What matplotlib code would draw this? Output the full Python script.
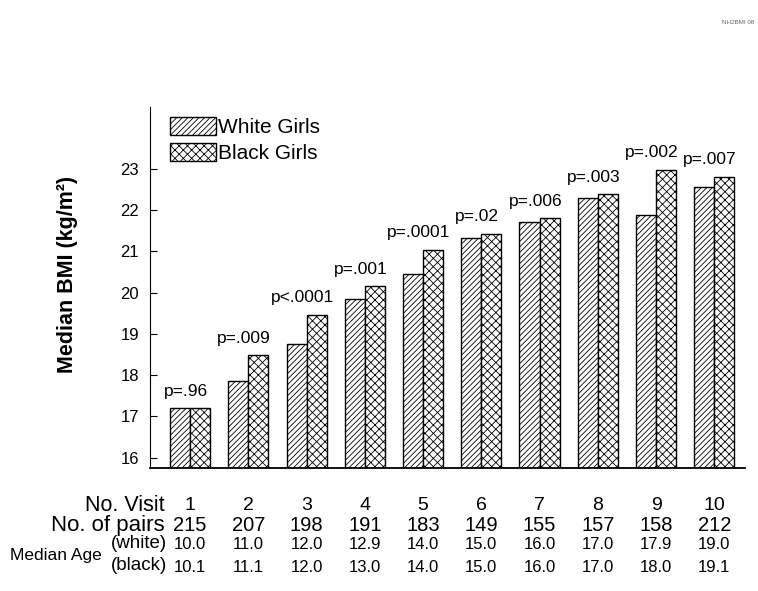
import numpy as np
import matplotlib
matplotlib.use("Agg")
import matplotlib.pyplot as plt
from matplotlib.patches import Patch

plt.rcParams['font.family'] = ['Liberation Sans', 'DejaVu Sans']
plt.rcParams['hatch.linewidth'] = 0.6

# --- data ---
visits = [1, 2, 3, 4, 5, 6, 7, 8, 9, 10]
bmi_white = [17.2, 17.87, 18.76, 19.85, 20.46, 21.33, 21.71, 22.29, 21.89, 22.57]
bmi_black = [17.2, 18.48, 19.47, 20.15, 21.04, 21.43, 21.80, 22.38, 22.98, 22.80]
p_values = ["p=.96", "p=.009", "p<.0001", "p=.001", "p=.0001",
            "p=.02", "p=.006", "p=.003", "p=.002", "p=.007"]
n_pairs = [215, 207, 198, 191, 183, 149, 155, 157, 158, 212]
age_white = ["10.0", "11.0", "12.0", "12.9", "14.0", "15.0", "16.0", "17.0", "17.9", "19.0"]
age_black = ["10.1", "11.1", "12.0", "13.0", "14.0", "15.0", "16.0", "17.0", "18.0", "19.1"]
yticks = [16, 17, 18, 19, 20, 21, 22, 23]

fig = plt.figure(figsize=(7.58, 5.91), dpi=100)
ax = fig.add_axes([0.198, 0.208, 0.785, 0.611])

x = np.array(visits)
w = 0.344
ax.bar(x - w / 2, bmi_white, w, bottom=0, color="white", edgecolor="black",
       linewidth=1, hatch="//////")
ax.bar(x + w / 2, bmi_black, w, bottom=0, color="white", edgecolor="black",
       linewidth=1, hatch="xxxx")

ax.set_xlim(0.313, 10.53)
ax.set_ylim(15.75, 24.5)
ax.set_yticks(yticks)
ax.set_xticks([])
ax.tick_params(axis="y", direction="in", length=5, labelsize=12, pad=8)
for s in ["top", "right"]:
    ax.spines[s].set_visible(False)
ax.spines["bottom"].set_linewidth(1.3)

ax.set_ylabel("Median BMI (kg/m²)", fontsize=15.5, fontweight="bold")
ax.yaxis.set_label_coords(-0.121, 0.537)

# p-value labels above each pair
for xi, a, b, p in zip(x, bmi_white, bmi_black, p_values):
    ax.annotate(p, (xi, max(a, b)), xytext=(-3, 7), textcoords="offset points",
                ha="center", va="bottom", fontsize=12.5)

# legend
handles = [Patch(facecolor="white", edgecolor="black", hatch="//////"),
           Patch(facecolor="white", edgecolor="black", hatch="xxxx")]
ax.legend(handles, ["White Girls", "Black Girls"], loc="upper left",
          bbox_to_anchor=(0.012, 1.008), frameon=False, fontsize=15,
          handlelength=2.2, handleheight=0.95, labelspacing=0.3,
          handletextpad=0.1, borderaxespad=0.2)

# table under the axis
tr = ax.get_xaxis_transform()
for xi, n, aw, ab in zip(x, n_pairs, age_white, age_black):
    ax.text(xi, -0.1025, str(xi), transform=tr, ha="center", va="center", fontsize=14)
    ax.text(xi, -0.158, str(n), transform=tr, ha="center", va="center", fontsize=14.5)
    ax.text(xi, -0.2105, aw, transform=tr, ha="center", va="center", fontsize=12)
    ax.text(xi, -0.274, ab, transform=tr, ha="center", va="center", fontsize=12)

ax.text(0.025, -0.1025, "No. Visit", transform=ax.transAxes, ha="right", va="center", fontsize=15.5)
ax.text(0.025, -0.158, "No. of pairs", transform=ax.transAxes, ha="right", va="center", fontsize=16)
ax.text(-0.081, -0.241, "Median Age", transform=ax.transAxes, ha="right", va="center", fontsize=12.5)
ax.text(0.029, -0.208, "(white)", transform=ax.transAxes, ha="right", va="center", fontsize=13.5)
ax.text(0.029, -0.269, "(black)", transform=ax.transAxes, ha="right", va="center", fontsize=13.5)

fig.text(0.995, 0.962, "NH2BMI 08", ha="right", va="center", fontsize=4.5, color="#666666")

fig.savefig("out.png", dpi=100)
